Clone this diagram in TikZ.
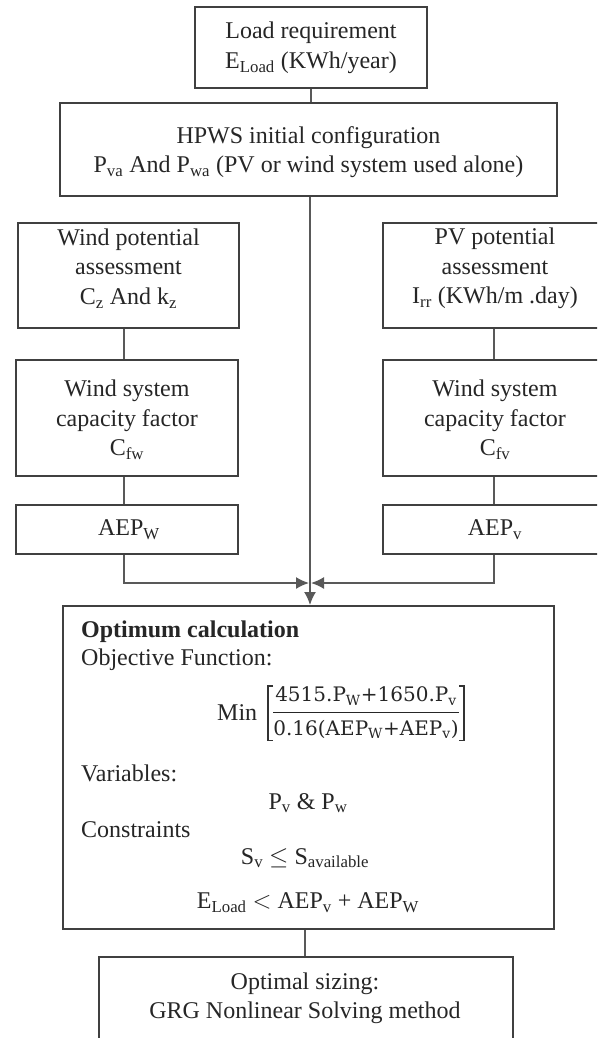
\documentclass[tikz,border=0pt]{standalone}
\usepackage{fontspec}
\setmainfont{Liberation Serif}
\newfontfamily\fracfont{DejaVu Serif}
\usetikzlibrary{arrows.meta}
\newcommand{\subs}[1]{\textsubscript{#1}}
\tikzset{
  box/.style={draw=black!75, line width=2pt, inner sep=0pt, fill=white},
  txt/.style={font=\fontsize{24}{29.5}\selectfont, align=center, text=black!85, inner sep=0pt},
  con/.style={draw=black!65, line width=1.6pt},
  arr/.style={con, -{Latex[length=13pt,width=12pt]}},
  brk/.style={draw=black!80, line width=1.4pt},
}
\begin{document}
\begin{tikzpicture}[x=1pt,y=-1pt]
\useasboundingbox (0,0) rectangle (597,1038);
\clip (0,0) rectangle (597,1038);
\fill[white] (0,0) rectangle (597,1038);

% boxes
\node[box, minimum width=232, minimum height=81] (load) at (311,47.5) {};
\node[box, minimum width=497, minimum height=93] (hpws) at (308.5,149.5) {};
\node[box, minimum width=221, minimum height=105] (wpL) at (128.5,275.5) {};
\node[box, minimum width=222, minimum height=116] (wsL) at (127,418) {};
\node[box, minimum width=222, minimum height=49] (aepL) at (127,529.5) {};
\node[box, minimum width=224, minimum height=105] (pvR) at (495,275.5) {};
\node[box, minimum width=224, minimum height=116] (wsR) at (495,418) {};
\node[box, minimum width=224, minimum height=49] (aepR) at (495,529.5) {};
\node[box, minimum width=491, minimum height=323] (opt) at (308.5,767.5) {};
\node[box, minimum width=414, minimum height=83] (fin) at (306,998.5) {};

% texts
\node[txt] (tload) at (311,48) {Load requirement\\E\subs{Load} (KWh/year)};
\node[txt] (thpws) at (308.5,152) {HPWS initial configuration\\P\subs{va} And P\subs{wa} (PV or wind system used alone)};
\node[txt] (twpL) at (128.5,268.5) {Wind potential\\assessment\\C\subs{z} And k\subs{z}};
\node[txt] (twsL) at (127,420) {Wind system\\capacity factor\\C\subs{fw}};
\node[txt] (taepL) at (129,530) {AEP\subs{W}};
\node[txt] (tpvR) at (495,268.5) {PV potential\\assessment\\I\subs{rr} (KWh/m .day)};
\node[txt] (twsR) at (495,420) {Wind system\\capacity factor\\C\subs{fv}};
\node[txt] (taepR) at (495,530) {AEP\subs{v}};

\node[txt, anchor=west] (o1) at (81,632) {\bfseries Optimum calculation};
\node[txt, anchor=west] (o2) at (81,660) {Objective Function:};
\node[txt, anchor=west] (o3a) at (217,713) {Min};
\node[txt, inner xsep=4pt, minimum height=54pt] (frac) at (366,713) {$\displaystyle\frac{\hbox{\fracfont\fontsize{20}{23}\selectfont 4515.P\subs{W}+1650.P\subs{v}}}{\hbox{\fracfont\fontsize{20}{23}\selectfont 0.16(AEP\subs{W}+AEP\subs{v})}}$};
\draw[brk] ([xshift=5pt]frac.north west) -- (frac.north west) -- (frac.south west) -- ([xshift=5pt]frac.south west);
\draw[brk] ([xshift=-5pt]frac.north east) -- (frac.north east) -- (frac.south east) -- ([xshift=-5pt]frac.south east);
\node[txt, anchor=west] (o4) at (81,773) {Variables:};
\node[txt] (o5) at (308,803) {P\subs{v} \& P\subs{w}};
\node[txt, anchor=west] (o6) at (81,830) {Constraints};
\node[txt] (o7) at (305,858) {S\subs{v} $\leq$ S\subs{available}};
\node[txt] (o8) at (308,903) {E\subs{Load} $<$ AEP\subs{v} + AEP\subs{W}};

\node[txt] (tfin) at (305,998.5) {Optimal sizing:\\GRG Nonlinear Solving method};

% connectors
\coordinate (m) at (310,583);
\coordinate (lx) at (124,0);
\coordinate (rx) at (494,0);
\coordinate (fx) at (305,0);
\draw[con] (load.south) -- (load.south |- hpws.north);
\draw[arr] (hpws.south -| m) -- (opt.north -| m);
\draw[con] (wpL.south -| lx) -- (wsL.north -| lx);
\draw[con] (wsL.south -| lx) -- (aepL.north -| lx);
\draw[arr] (aepL.south -| lx) |- ([xshift=-1pt]m);
\draw[con] (pvR.south -| rx) -- (wsR.north -| rx);
\draw[con] (wsR.south -| rx) -- (aepR.north -| rx);
\draw[arr] (aepR.south -| rx) |- ([xshift=1pt]m);
\draw[con] (opt.south -| fx) -- (fin.north -| fx);
\end{tikzpicture}
\end{document}
